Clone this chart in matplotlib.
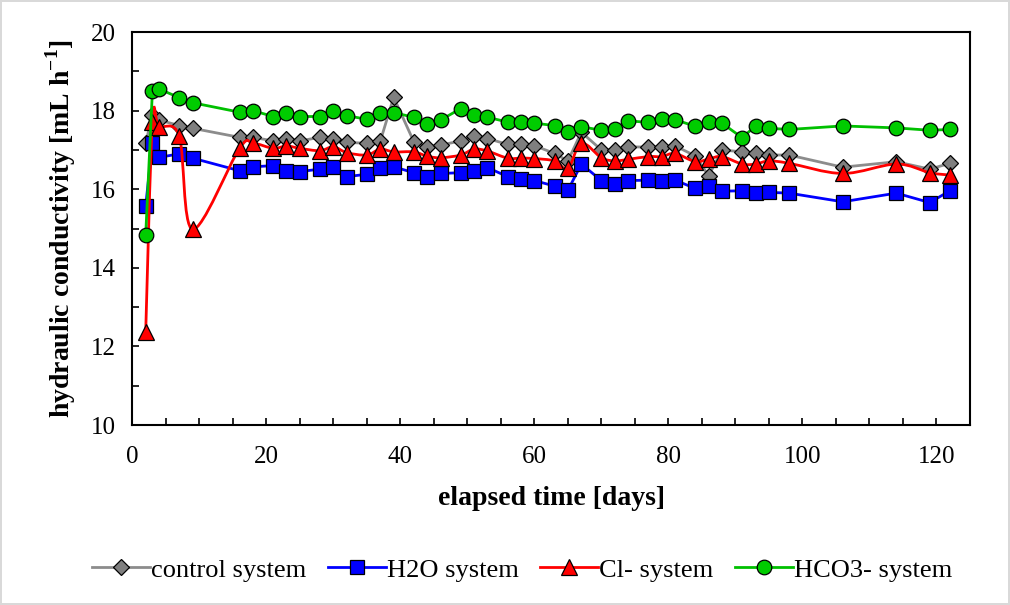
import matplotlib
matplotlib.use('Agg')
import matplotlib.pyplot as plt
import numpy as np
from matplotlib.path import Path
from matplotlib.patches import PathPatch
from matplotlib.lines import Line2D
from matplotlib.ticker import MultipleLocator

plt.rcParams['font.family'] = ['Liberation Serif', 'DejaVu Serif']
plt.rcParams['mathtext.fontset'] = 'custom'
plt.rcParams['mathtext.rm'] = 'Liberation Serif'
plt.rcParams['mathtext.bf'] = 'Liberation Serif:bold'

days = [2, 3, 4, 7, 9, 16, 18, 21, 23, 25, 28, 30, 32, 35, 37, 39, 42, 44, 46, 49,
        51, 53, 56, 58, 60, 63, 65, 67, 70, 72, 74, 77, 79, 81, 84, 86, 88, 91, 93, 95,
        98, 106, 114, 119, 122]

control = [17.18, 17.89, 17.76, 17.62, 17.55, 17.32, 17.32, 17.23, 17.29, 17.23,
           17.32, 17.29, 17.19, 17.17, 17.22, 18.34, 17.21, 17.08, 17.12, 17.23,
           17.35, 17.29, 17.14, 17.14, 17.11, 16.91, 16.72, 17.45, 17.00, 17.00,
           17.08, 17.07, 17.08, 17.10, 16.85, 16.34, 17.00, 16.95, 16.91, 16.87,
           16.87, 16.56, 16.70, 16.51, 16.66]

h2o = [15.58, 17.18, 16.81, 16.90, 16.79, 16.47, 16.57, 16.60, 16.47, 16.45,
       16.51, 16.56, 16.32, 16.38, 16.53, 16.57, 16.42, 16.30, 16.40, 16.42,
       16.46, 16.55, 16.32, 16.25, 16.22, 16.08, 15.97, 16.64, 16.22, 16.13,
       16.22, 16.23, 16.22, 16.23, 16.02, 16.09, 15.95, 15.96, 15.91, 15.92,
       15.90, 15.68, 15.90, 15.66, 15.96]

cl = [12.37, 17.72, 17.59, 17.35, 14.98, 17.04, 17.17, 17.04, 17.10, 17.04,
      16.98, 17.08, 16.93, 16.87, 17.02, 16.95, 16.95, 16.84, 16.80, 16.87,
      17.02, 16.97, 16.79, 16.79, 16.78, 16.72, 16.53, 17.17, 16.80, 16.72,
      16.76, 16.83, 16.83, 16.91, 16.70, 16.77, 16.83, 16.64, 16.64, 16.72,
      16.66, 16.40, 16.64, 16.42, 16.36]

hco3 = [14.84, 18.50, 18.55, 18.33, 18.20, 17.96, 18.00, 17.85, 17.95, 17.85,
        17.85, 18.00, 17.87, 17.78, 17.95, 17.95, 17.83, 17.67, 17.76, 18.05,
        17.88, 17.83, 17.71, 17.71, 17.68, 17.62, 17.45, 17.59, 17.50, 17.52,
        17.74, 17.70, 17.78, 17.77, 17.60, 17.70, 17.68, 17.31, 17.61, 17.55,
        17.52, 17.61, 17.56, 17.50, 17.52]


def smooth_path(x, y):
    # excel style smoothed line: cubic bezier segments through every point
    p = np.column_stack([x, y]).astype(float)
    verts = [p[0]]
    codes = [Path.MOVETO]
    n = len(p)
    for i in range(n - 1):
        p0 = p[i - 1] if i > 0 else p[i]
        p3 = p[i + 2] if i + 2 < n else p[i + 1]
        c1 = p[i] + (p[i + 1] - p0) / 6.0
        c2 = p[i + 1] - (p3 - p[i]) / 6.0
        verts += [c1, c2, p[i + 1]]
        codes += [Path.CURVE4] * 3
    return Path(verts, codes)


fig = plt.figure(figsize=(10.1, 6.05), dpi=100)
fig.patch.set_edgecolor('#d9d9d9')
fig.patch.set_linewidth(1.5)
ax = fig.add_axes([0.131, 0.2975, 0.8294, 0.6496])

series = [
    ('control system', control, '#8c8c8c', '#7f7f7f', 'D', 8.5),
    ('H2O system', h2o, '#0000ff', '#0000ff', 's', 10.5),
    ('Cl- system', cl, '#ff0000', '#ff0000', '^', 11.5),
    ('HCO3- system', hco3, '#00c000', '#00cc00', 'o', 10.5),
]

handles = []
for i, (name, vals, lc, fc, mk, ms) in enumerate(series):
    z = 2 + i
    if name == 'Cl- system':
        ax.add_patch(PathPatch(smooth_path(days, vals), facecolor='none',
                               edgecolor=lc, lw=2, zorder=z))
    else:
        ax.plot(days, vals, color=lc, lw=2, zorder=z)
    ax.plot(days, vals, ls='none', marker=mk, ms=ms, mfc=fc, mec='black',
            mew=0.9, zorder=z + 0.5)
    handles.append(Line2D([], [], color=lc, lw=2, marker=mk, ms=ms, mfc=fc,
                          mec='black', mew=0.9, label=name))

ax.set_xlim(0, 125)
ax.set_ylim(10, 20)
ax.xaxis.set_major_locator(MultipleLocator(20))
ax.xaxis.set_minor_locator(MultipleLocator(5))
ax.yaxis.set_major_locator(MultipleLocator(2))
ax.yaxis.set_minor_locator(MultipleLocator(1))
ax.tick_params(which='both', direction='in', length=5, width=1.2,
               labelsize=18, colors='black')
ax.tick_params(axis='x', pad=15)
ax.tick_params(axis='y', pad=12)
for s in ax.spines.values():
    s.set_linewidth(1.5)

ax.set_xlabel('elapsed time [days]', fontsize=20, fontweight='bold', labelpad=13)
ax.set_ylabel(r'hydraulic conductivity [mL h$^{\mathbf{-1}}$]', fontsize=20,
              fontweight='bold', labelpad=9)

fig.legend(handles=handles, loc='center', bbox_to_anchor=(0.517, 0.058),
           ncol=4, frameon=False, fontsize=19, handlelength=2.2,
           handletextpad=0.05, columnspacing=0.8, numpoints=1)

fig.savefig('out.png', dpi=100)
